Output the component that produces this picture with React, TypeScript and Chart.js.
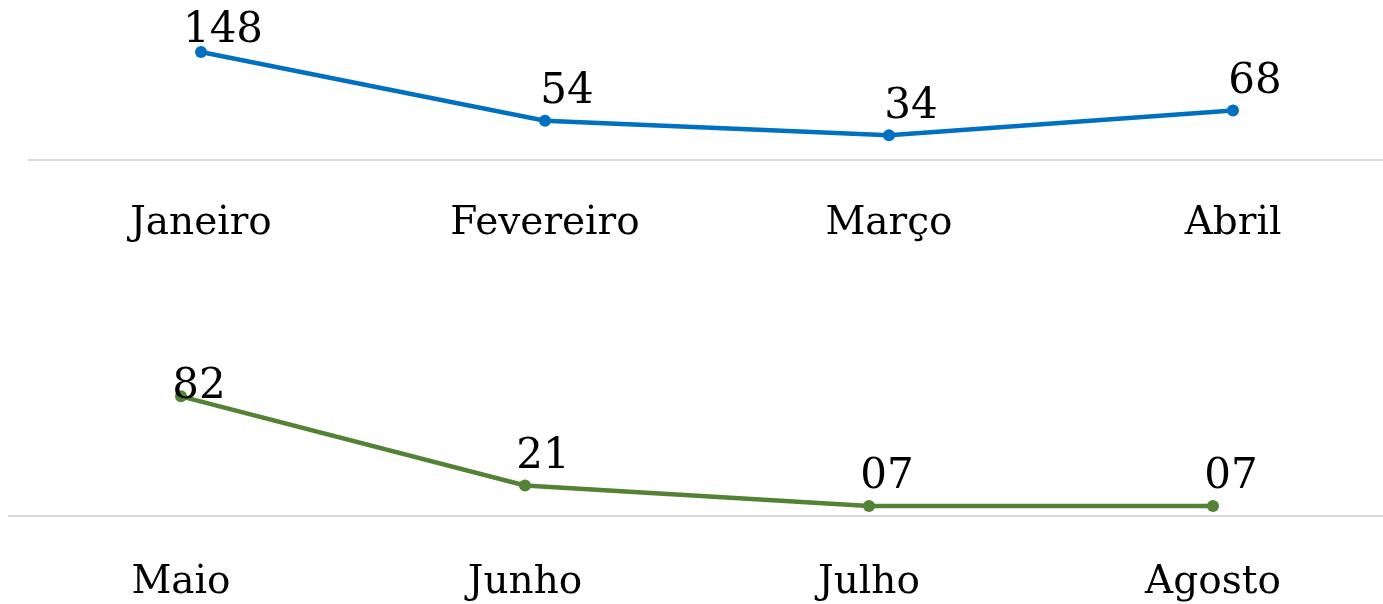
import React, { useEffect, useRef } from "react";
import { Chart, registerables } from "chart.js";

Chart.register(...registerables);

const topCategories = ["Janeiro", "Fevereiro", "Março", "Abril"];
const topValues = [148, 54, 34, 68];
const topLabels = ["148", "54", "34", "68"];

const bottomCategories = ["Maio", "Junho", "Julho", "Agosto"];
const bottomValues = [82, 21, 7, 7];
const bottomLabels = ["82", "21", "07", "07"];

const FONT = "'DejaVu Serif', 'Liberation Serif', serif";

function makeLabelPlugin(texts: string[], dx: number) {
  return {
    id: "valueLabels",
    afterDatasetsDraw(chart: any) {
      const ctx = chart.ctx;
      const meta = chart.getDatasetMeta(0);
      ctx.save();
      ctx.font = `42px ${FONT}`;
      ctx.fillStyle = "#000000";
      ctx.textAlign = "center";
      ctx.textBaseline = "alphabetic";
      meta.data.forEach((pt: any, i: number) => {
        const y = Math.max(pt.y - 17.5, 42);
        ctx.fillText(texts[i], pt.x + dx, y);
      });
      ctx.restore();
    },
  };
}

type LineProps = {
  categories: string[];
  values: number[];
  texts: string[];
  color: string;
  max: number;
  width: number;
  height: number;
  padLeft: number;
  tickPad: number;
  dx: number;
  top: number;
};

function LineChart(p: LineProps) {
  const ref = useRef<HTMLCanvasElement | null>(null);
  useEffect(() => {
    if (!ref.current) return;
    const chart = new Chart(ref.current, {
      type: "line",
      data: {
        labels: p.categories,
        datasets: [
          {
            data: p.values,
            borderColor: p.color,
            backgroundColor: p.color,
            borderWidth: 4.5,
            pointRadius: 6,
            pointBackgroundColor: p.color,
            pointBorderWidth: 0,
            tension: 0,
            clip: false as any,
          },
        ],
      },
      options: {
        responsive: false,
        animation: false,
        layout: { autoPadding: false, padding: { left: p.padLeft, right: 0, top: 14, bottom: 0 } },
        plugins: { legend: { display: false }, tooltip: { enabled: false } },
        scales: {
          x: {
            offset: true,
            grid: { display: false, drawTicks: false },
            border: { display: true, color: "#d9d9d9", width: 2 },
            ticks: {
              font: { family: FONT, size: 39 },
              color: "#000000",
              padding: p.tickPad,
              maxRotation: 0,
              autoSkip: false,
            },
          },
          y: { display: false, min: 0, max: p.max },
        },
      },
      plugins: [makeLabelPlugin(p.texts, p.dx)],
    });
    return () => chart.destroy();
  }, []);
  return (
    <div style={{ position: "absolute", left: 0, top: p.top }}>
      <canvas ref={ref} width={p.width} height={p.height} style={{ display: "block" }} />
    </div>
  );
}

export default function App() {
  useEffect(() => {
    document.body.style.margin = "0";
  }, []);
  return (
    <div style={{ position: "relative", width: 1383, height: 604, overflow: "hidden", background: "#ffffff" }}>
      <LineChart
        categories={topCategories}
        values={topValues}
        texts={topLabels}
        color="#0070C0"
        max={200}
        width={1405}
        height={287}
        padLeft={29}
        tickPad={40}
        dx={22}
        top={0}
      />
      <LineChart
        categories={bottomCategories}
        values={bottomValues}
        texts={bottomLabels}
        color="#548235"
        max={100}
        width={1385}
        height={293}
        padLeft={9}
        tickPad={43}
        dx={18}
        top={356}
      />
    </div>
  );
}
